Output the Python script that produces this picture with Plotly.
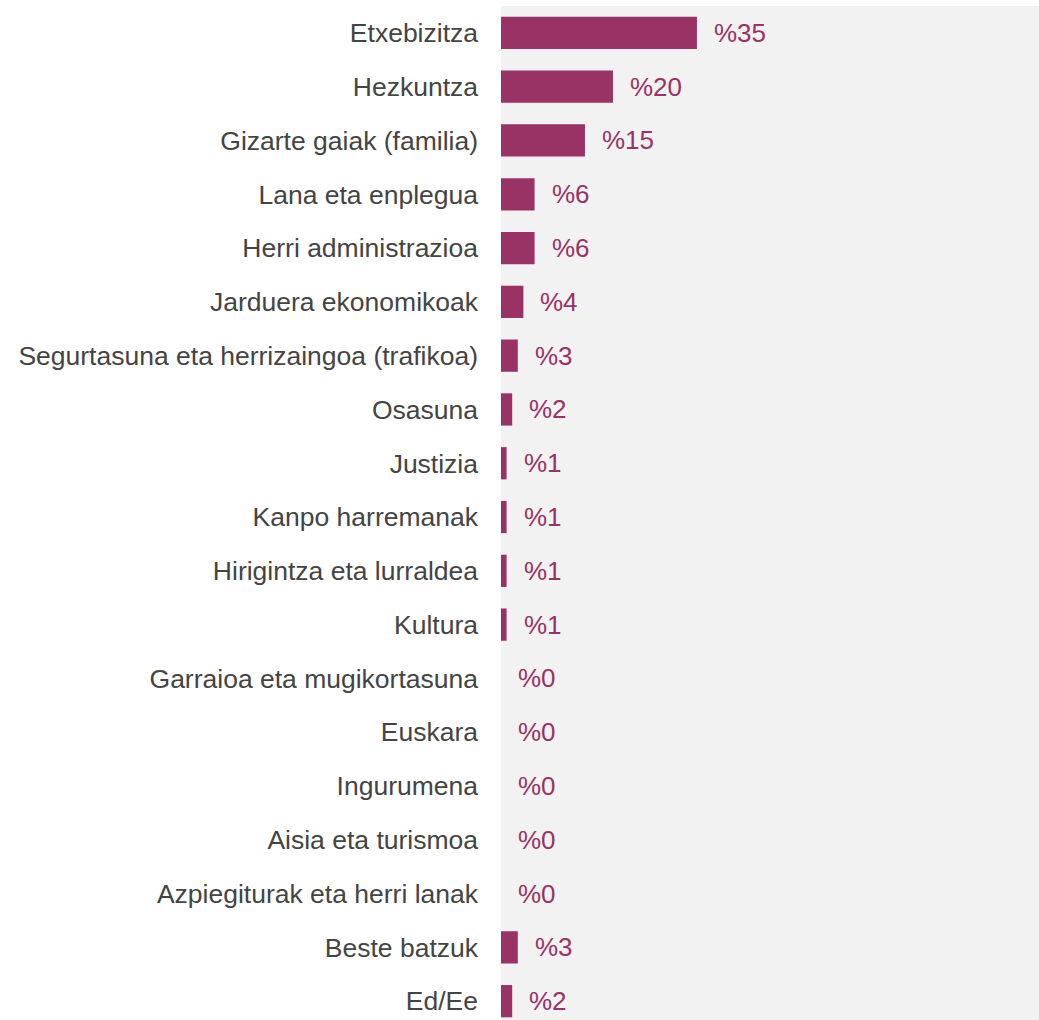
import plotly.graph_objects as go

# Gaiak eta ehunekoak
categories = [
    "Etxebizitza", "Hezkuntza", "Gizarte gaiak (familia)", "Lana eta enplegua",
    "Herri administrazioa", "Jarduera ekonomikoak",
    "Segurtasuna eta herrizaingoa (trafikoa)", "Osasuna", "Justizia",
    "Kanpo harremanak", "Hirigintza eta lurraldea", "Kultura",
    "Garraioa eta mugikortasuna", "Euskara", "Ingurumena",
    "Aisia eta turismoa", "Azpiegiturak eta herri lanak", "Beste batzuk", "Ed/Ee",
]
values = [35, 20, 15, 6, 6, 4, 3, 2, 1, 1, 1, 1, 0, 0, 0, 0, 0, 3, 2]

BAR = "#993366"
TEXT = "#444444"
FONT = "Arial, Liberation Sans, sans-serif"

fig = go.Figure(
    go.Bar(
        x=values,
        y=categories,
        orientation="h",
        marker=dict(color=BAR, line=dict(width=0)),
        width=0.6,
        hoverinfo="skip",
    )
)

for cat, v in zip(categories, values):
    fig.add_annotation(
        x=v, y=cat, text=f"%{v}", showarrow=False,
        xanchor="left", yanchor="middle", xshift=15,
        font=dict(family=FONT, size=26, color=BAR),
    )

fig.update_layout(
    width=1039, height=1020,
    margin=dict(l=501, r=0, t=6, b=0),
    paper_bgcolor="white",
    plot_bgcolor="#f2f2f2",
    showlegend=False,
    font=dict(family=FONT, size=26.5, color=TEXT),
)
fig.update_xaxes(range=[0, 96.1], showgrid=False, zeroline=False,
                 showticklabels=False, ticks="")
fig.update_yaxes(range=[18.35, -0.5], showgrid=False, zeroline=False,
                 ticks="", ticklabelstandoff=22,
                 tickfont=dict(family=FONT, size=26.5, color=TEXT))

fig.write_html("out.html")
